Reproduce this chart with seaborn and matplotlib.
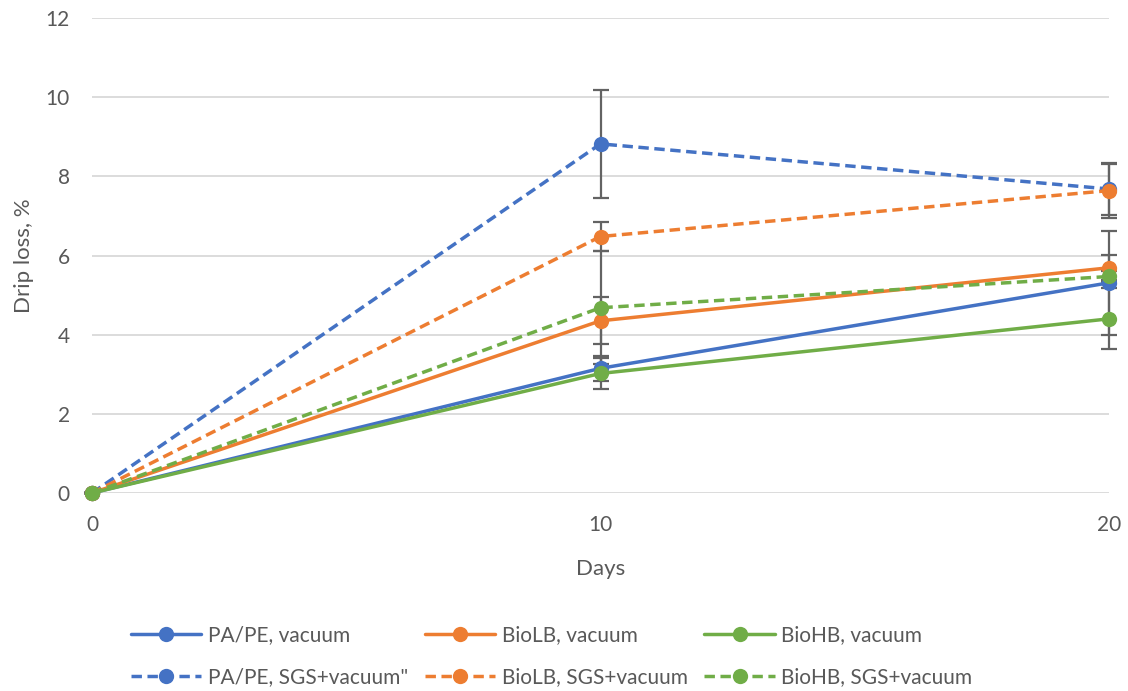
import matplotlib
matplotlib.use("Agg")
import matplotlib.pyplot as plt
from matplotlib.lines import Line2D
import seaborn as sns
import pandas as pd

days = [0, 10, 20]

pape_vac = [0.0, 3.15, 5.31]
biolb_vac = [0.0, 4.35, 5.69]
biohb_vac = [0.0, 3.02, 4.40]
pape_sgs = [0.0, 8.82, 7.68]
biolb_sgs = [0.0, 6.48, 7.64]
biohb_sgs = [0.0, 4.68, 5.47]

pape_vac_err = [0.0, 0.32, 1.32]
biolb_vac_err = [0.0, 0.59, 0.32]
biohb_vac_err = [0.0, 0.40, 0.77]
pape_sgs_err = [0.0, 1.37, 0.65]
biolb_sgs_err = [0.0, 0.36, 0.68]
biohb_sgs_err = [0.0, 1.43, 0.15]

labels = ["PA/PE, vacuum", "BioLB, vacuum", "BioHB, vacuum",
          'PA/PE, SGS+vacuum"', "BioLB, SGS+vacuum", "BioHB, SGS+vacuum"]

BLUE, ORANGE, GREEN = "#4472C4", "#ED7D31", "#70AD47"
TEXT = "#595959"
DASH = (0, (3, 1.6))

series = [
    (labels[0], pape_vac, pape_vac_err, BLUE, "-"),
    (labels[1], biolb_vac, biolb_vac_err, ORANGE, "-"),
    (labels[2], biohb_vac, biohb_vac_err, GREEN, "-"),
    (labels[3], pape_sgs, pape_sgs_err, BLUE, DASH),
    (labels[4], biolb_sgs, biolb_sgs_err, ORANGE, DASH),
    (labels[5], biohb_sgs, biohb_sgs_err, GREEN, DASH),
]

sns.set_theme(style="white")
plt.rcParams["font.family"] = ["Lato", "DejaVu Sans"]

fig = plt.figure(figsize=(11.28, 6.91), dpi=100)
ax = fig.add_axes([92 / 1128, 1 - 493 / 691, (1109 - 92) / 1128, (493 - 18) / 691])

LW, MS = 2.5, 11
handles = {}
for i, (name, vals, errs, color, ls) in enumerate(series):
    df = pd.DataFrame({"Days": days, "Drip": vals})
    sns.lineplot(data=df, x="Days", y="Drip", ax=ax, color=color,
                 linestyle=ls, linewidth=LW, marker="o", markersize=MS,
                 markeredgewidth=0, clip_on=False, zorder=3 + i,
                 errorbar=None, legend=False)
    ax.errorbar(days, vals, yerr=errs, fmt="none", ecolor="#636363",
                elinewidth=1.6, capsize=5.5, capthick=1.6, zorder=2.5,
                clip_on=False)
    handles[name] = Line2D([], [], color=color, linestyle=ls, linewidth=LW,
                           marker="o", markersize=MS, markeredgewidth=0)

ax.set_xlim(0, 20)
ax.set_ylim(0, 12)
ax.set_xticks([0, 10, 20])
ax.set_yticks(range(0, 13, 2))
ax.grid(axis="y", color="#D9D9D9", linewidth=1.3)
ax.grid(axis="x", visible=False)
for s in ax.spines.values():
    s.set_visible(False)
ax.tick_params(axis="both", length=0, labelsize=15, colors=TEXT)
ax.tick_params(axis="x", pad=16)
ax.tick_params(axis="y", pad=16)

ax.set_xlabel("Days", fontsize=16, color=TEXT, labelpad=17)
ax.set_ylabel("Drip loss, %", fontsize=16, color=TEXT, labelpad=8)

order = [labels[0], labels[3], labels[1], labels[4], labels[2], labels[5]]
fig.legend([handles[k] for k in order], order, ncol=3, loc="center",
           bbox_to_anchor=(0.489, 0.0505), frameon=False, fontsize=15,
           labelcolor=TEXT, handlelength=3.4, columnspacing=0.8,
           handletextpad=0.3, labelspacing=1.05)

fig.savefig("out.png", dpi=100)
